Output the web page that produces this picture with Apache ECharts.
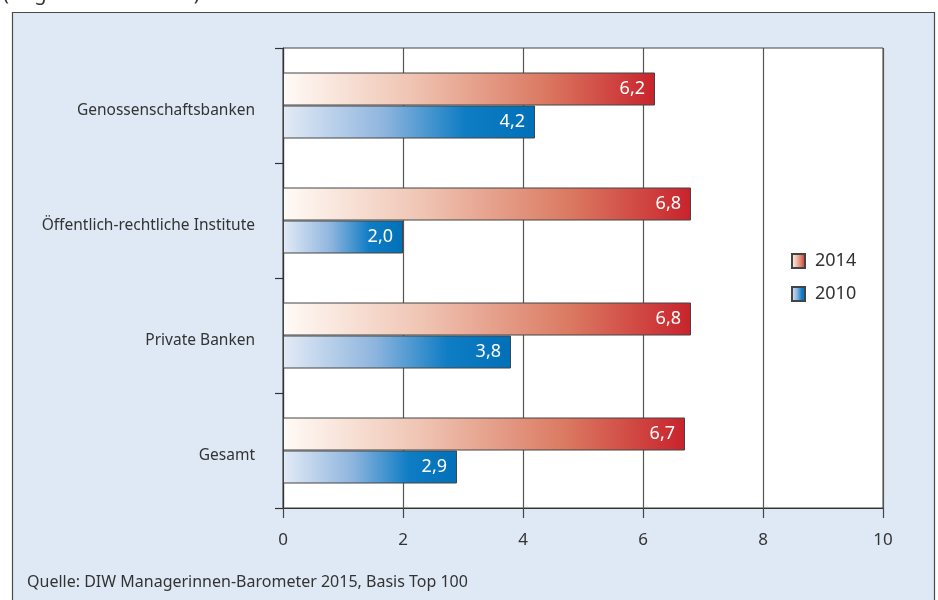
<!DOCTYPE html>
<html>
<head>
<meta charset="utf-8">
<script src="https://cdn.jsdelivr.net/npm/echarts@6/dist/echarts.min.js"></script>
<style>
  html, body { margin: 0; padding: 0; background: #fff; }
  #chart { width: 938px; height: 600px; }
</style>
</head>
<body>
<div id="chart"></div>
<script>
const categories = ['Genossenschaftsbanken', 'Öffentlich-rechtliche Institute', 'Private Banken', 'Gesamt']
const values2014 = [6.2, 6.8, 6.8, 6.7]
const values2010 = [4.2, 2.0, 3.8, 2.9]
const xTicks = [0, 2, 4, 6, 8, 10]

const FONT = '"Noto Sans", "DejaVu Sans", sans-serif'

const redFill = new echarts.graphic.LinearGradient(0, 0, 1, 0, [
  { offset: 0, color: '#fffbf7' },
  { offset: 0.35, color: '#efc3b1' },
  { offset: 0.7, color: '#db7a62' },
  { offset: 1, color: '#c8232c' }
])
const blueFill = new echarts.graphic.LinearGradient(0, 0, 1, 0, [
  { offset: 0, color: '#e3ebf6' },
  { offset: 0.4, color: '#8fb5de' },
  { offset: 0.72, color: '#0f7dc4' },
  { offset: 1, color: '#0070b8' }
])

const fmt = v => v.toFixed(1).replace('.', ',')

const chart = echarts.init(document.getElementById('chart'))

chart.setOption({
  animation: false,
  textStyle: { fontFamily: FONT },
  graphic: [
    {
      type: 'rect', z: -10,
      shape: { x: 12.5, y: 12.5, width: 922, height: 600 },
      style: { fill: '#dfe9f5', stroke: '#4a4a4a', lineWidth: 1.2 }
    },
    {
      type: 'text', left: 3, top: -16, z: 5,
      style: { text: '(Angaben in Prozent)', font: '20px ' + FONT, fill: '#333' }
    },
    {
      type: 'text', left: 27, top: 574,
      style: { text: 'Quelle: DIW Managerinnen-Barometer 2015, Basis Top 100', font: '16px ' + FONT, fill: '#333' }
    }
  ],
  grid: {
    left: 283, right: 55, top: 48, bottom: 92,
    show: true, backgroundColor: '#fff', borderColor: '#444', borderWidth: 1
  },
  legend: {
    orient: 'vertical',
    left: 786, top: 247,
    itemWidth: 13, itemHeight: 14, itemGap: 15,
    icon: 'rect',
    textStyle: { fontSize: 18, color: '#333', fontFamily: FONT, padding: [0, 0, 0, 5] },
    data: ['2014', '2010']
  },
  xAxis: {
    type: 'value',
    min: xTicks[0], max: xTicks[xTicks.length - 1], interval: 2,
    axisLine: { show: true, lineStyle: { color: '#333', width: 1.2 } },
    axisTick: { show: true, length: 10, lineStyle: { color: '#444', width: 1.2 } },
    axisLabel: { margin: 24, fontSize: 17, color: '#333', formatter: v => String(v) },
    splitLine: { show: true, lineStyle: { color: '#555', width: 1.2 } }
  },
  yAxis: {
    type: 'category',
    inverse: true,
    data: categories,
    axisLine: { show: true, lineStyle: { color: '#333', width: 1.2 } },
    axisTick: { show: true, length: 8, lineStyle: { color: '#333', width: 1.2 } },
    axisLabel: { margin: 28, fontSize: 15.5, color: '#333', verticalAlign: 'top', lineHeight: 10 },
    splitLine: { show: false }
  },
  series: [
    {
      name: '2014', type: 'bar', data: values2014,
      barWidth: 33, barGap: '0%',
      itemStyle: { color: redFill, borderColor: '#444', borderWidth: 1 },
      label: { show: true, position: 'insideRight', distance: 10, color: '#fff', fontSize: 18, formatter: p => fmt(p.value) }
    },
    {
      name: '2010', type: 'bar', data: values2010,
      barWidth: 33, barGap: '0%',
      itemStyle: { color: blueFill, borderColor: '#444', borderWidth: 1 },
      label: { show: true, position: 'insideRight', distance: 10, color: '#fff', fontSize: 18, formatter: p => fmt(p.value) }
    }
  ]
})
</script>
</body>
</html>
